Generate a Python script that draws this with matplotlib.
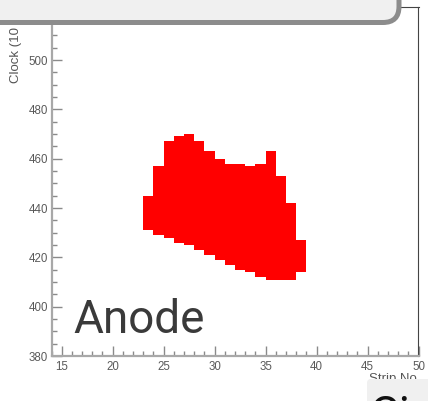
import matplotlib
matplotlib.use("Agg")
import matplotlib.pyplot as plt
from matplotlib.patches import FancyBboxPatch
from matplotlib.transforms import IdentityTransform
from matplotlib.ticker import MultipleLocator

# anode hit map: one column per strip, filled between lowest and highest clock
strips = [23, 24, 25, 26, 27, 28, 29, 30, 31, 32, 33, 34, 35, 36, 37, 38]
clock_top = [445, 457, 467, 469, 470, 467, 463, 460, 458, 458, 457, 458, 463, 453, 442, 427]
clock_low = [431, 429, 428, 426, 425, 423, 421, 419, 417, 415, 414, 412, 411, 411, 411, 414]
x_range = (14, 50)
y_range = (380, 521.5)

W, H = 428, 401
fig = plt.figure(figsize=(W / 100, H / 100), dpi=100)
fig.patch.set_facecolor("white")

ax = fig.add_axes([51.5 / W, 45 / H, 367 / W, 349 / H])
heights = [t - b for t, b in zip(clock_top, clock_low)]
ax.bar(strips, heights, bottom=clock_low, width=1.0, align="edge",
       color="#ff0000", linewidth=0)

ax.set_xlim(*x_range)
ax.set_ylim(*y_range)
ax.xaxis.set_major_locator(MultipleLocator(5))
ax.xaxis.set_minor_locator(MultipleLocator(1))
ax.yaxis.set_major_locator(MultipleLocator(20))
ax.yaxis.set_minor_locator(MultipleLocator(5))

ax.tick_params(which="both", direction="in", color="#8a8a8a",
               labelcolor="#5a5a5a", width=1.0)
ax.tick_params(which="major", length=7)
ax.tick_params(which="minor", length=3.5)
ax.tick_params(axis="x", pad=3.5)
ax.tick_params(axis="y", pad=2.5)
for lab in ax.get_xticklabels() + ax.get_yticklabels():
    lab.set_fontfamily("Liberation Sans")
    lab.set_fontsize(8.3)

for side in ("left", "bottom"):
    ax.spines[side].set_color("#a8a8a8")
    ax.spines[side].set_linewidth(1.6)
for side in ("right", "top"):
    ax.spines[side].set_color("#444444")
    ax.spines[side].set_linewidth(0.8)

# axis titles, ROOT style (aligned to the far end of each axis)
fig.text(16 / W, 1 - 5 / H, "Clock (10 ns)", rotation=90, ha="center", va="top",
         fontsize=9.5, color="#555555", family="Liberation Sans")
fig.text(420 / W, 1 - 373 / H, "Strip No.", ha="right", va="top",
         fontsize=9.5, color="#555555", family="Liberation Sans")

fig.text(73 / W, 1 - 333 / H, "Anode", ha="left", va="baseline",
         fontsize=33, color="#3a3a3a", family="Roboto", weight="normal")

# overlay panels from the surrounding viewer
top_panel = FancyBboxPatch((-40, H - 22.5), 439, 60,
                           boxstyle="round,pad=0,rounding_size=16",
                           transform=IdentityTransform(), facecolor="#f0f0f0",
                           edgecolor="#8c8c8c", linewidth=3.6, zorder=10)
fig.patches.append(top_panel)

bottom_panel = FancyBboxPatch((367, -40), 100, H - 379 + 40,
                              boxstyle="round,pad=0,rounding_size=4",
                              transform=IdentityTransform(), facecolor="#f0f0f0",
                              edgecolor="none", zorder=10)
fig.patches.append(bottom_panel)
fig.text(369 / W, 1 - 394 / H, "Ci", ha="left", va="top", fontsize=33,
         color="#111111", family="Roboto", weight="normal", zorder=11)

fig.savefig("out.png", dpi=100, facecolor="white")
